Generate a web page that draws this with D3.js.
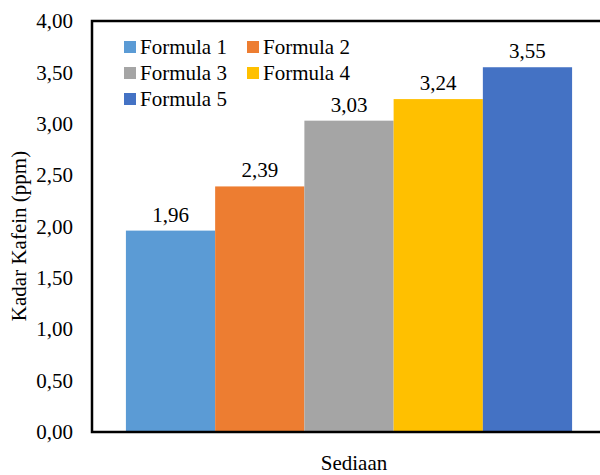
<!DOCTYPE html>
<html>
<head>
<meta charset="utf-8">
<script src="https://cdn.jsdelivr.net/npm/d3@7"></script>
<style>
  body { margin: 0; background: #fff; }
  svg { display: block; }
</style>
</head>
<body>
<svg id="chart" width="600" height="475" font-family="Liberation Serif"></svg>
<script>
// data
const formulas = ["Formula 1", "Formula 2", "Formula 3", "Formula 4", "Formula 5"];
const kadar = [1.96, 2.39, 3.03, 3.24, 3.55];
const colors = ["#5B9BD5", "#ED7D31", "#A5A5A5", "#FFC000", "#4472C4"];
const yTicks = [0, 0.5, 1, 1.5, 2, 2.5, 3, 3.5, 4];

const idLocale = d3.formatLocale({ decimal: ",", thousands: ".", grouping: [3], currency: ["Rp", ""] });
const fmt = idLocale.format(".2f");

const plot = { left: 92, right: 606, top: 21, bottom: 432 };
const fontSize = 21;
const svg = d3.select("#chart");

const x = d3.scaleBand()
    .domain(formulas)
    .range([plot.left, plot.right])
    .paddingInner(0)
    .paddingOuter(0.38);

const y = d3.scaleLinear()
    .domain([0, 4])
    .range([plot.bottom, plot.top]);

const color = d3.scaleOrdinal().domain(formulas).range(colors);
const data = formulas.map((f, i) => ({ name: f, value: kadar[i] }));

// bars
svg.selectAll(".bar")
    .data(data)
    .join("rect")
    .attr("class", "bar")
    .attr("x", d => x(d.name))
    .attr("y", d => y(d.value))
    .attr("width", x.bandwidth())
    .attr("height", d => y(0) - y(d.value))
    .attr("fill", d => color(d.name));

// value labels
svg.selectAll(".val")
    .data(data)
    .join("text")
    .attr("class", "val")
    .attr("x", d => x(d.name) + x.bandwidth() / 2)
    .attr("y", d => y(d.value) - 9)
    .attr("text-anchor", "middle")
    .attr("font-size", fontSize)
    .attr("fill", "#000")
    .text(d => fmt(d.value));

// y axis (labels only)
const yAxis = svg.append("g")
    .attr("transform", `translate(${plot.left},0)`)
    .call(d3.axisLeft(y).tickValues(yTicks).tickFormat(fmt).tickSize(0).tickPadding(19));
yAxis.attr("font-family", "Liberation Serif").attr("font-size", fontSize);
yAxis.select(".domain").remove();
yAxis.selectAll("text").attr("fill", "#000");

// frame around plot area
svg.append("rect")
    .attr("x", plot.left)
    .attr("y", plot.top)
    .attr("width", plot.right - plot.left)
    .attr("height", plot.bottom - plot.top)
    .attr("fill", "none")
    .attr("stroke", "#000")
    .attr("stroke-width", 2.5);

// axis titles
svg.append("text")
    .attr("transform", "translate(26,236) rotate(-90)")
    .attr("text-anchor", "middle")
    .attr("font-size", fontSize)
    .text("Kadar Kafein (ppm)");

svg.append("text")
    .attr("x", 354)
    .attr("y", 470)
    .attr("text-anchor", "middle")
    .attr("font-size", fontSize)
    .text("Sediaan");

// legend
const legend = svg.append("g").selectAll("g")
    .data(formulas)
    .join("g")
    .attr("transform", (d, i) => `translate(${124 + (i % 2) * 123},${47 + Math.floor(i / 2) * 26})`);

legend.append("rect")
    .attr("x", 0)
    .attr("y", -6)
    .attr("width", 12)
    .attr("height", 12)
    .attr("fill", d => color(d));

legend.append("text")
    .attr("x", 16)
    .attr("y", 7)
    .attr("font-size", fontSize)
    .text(d => d);
</script>
</body>
</html>
